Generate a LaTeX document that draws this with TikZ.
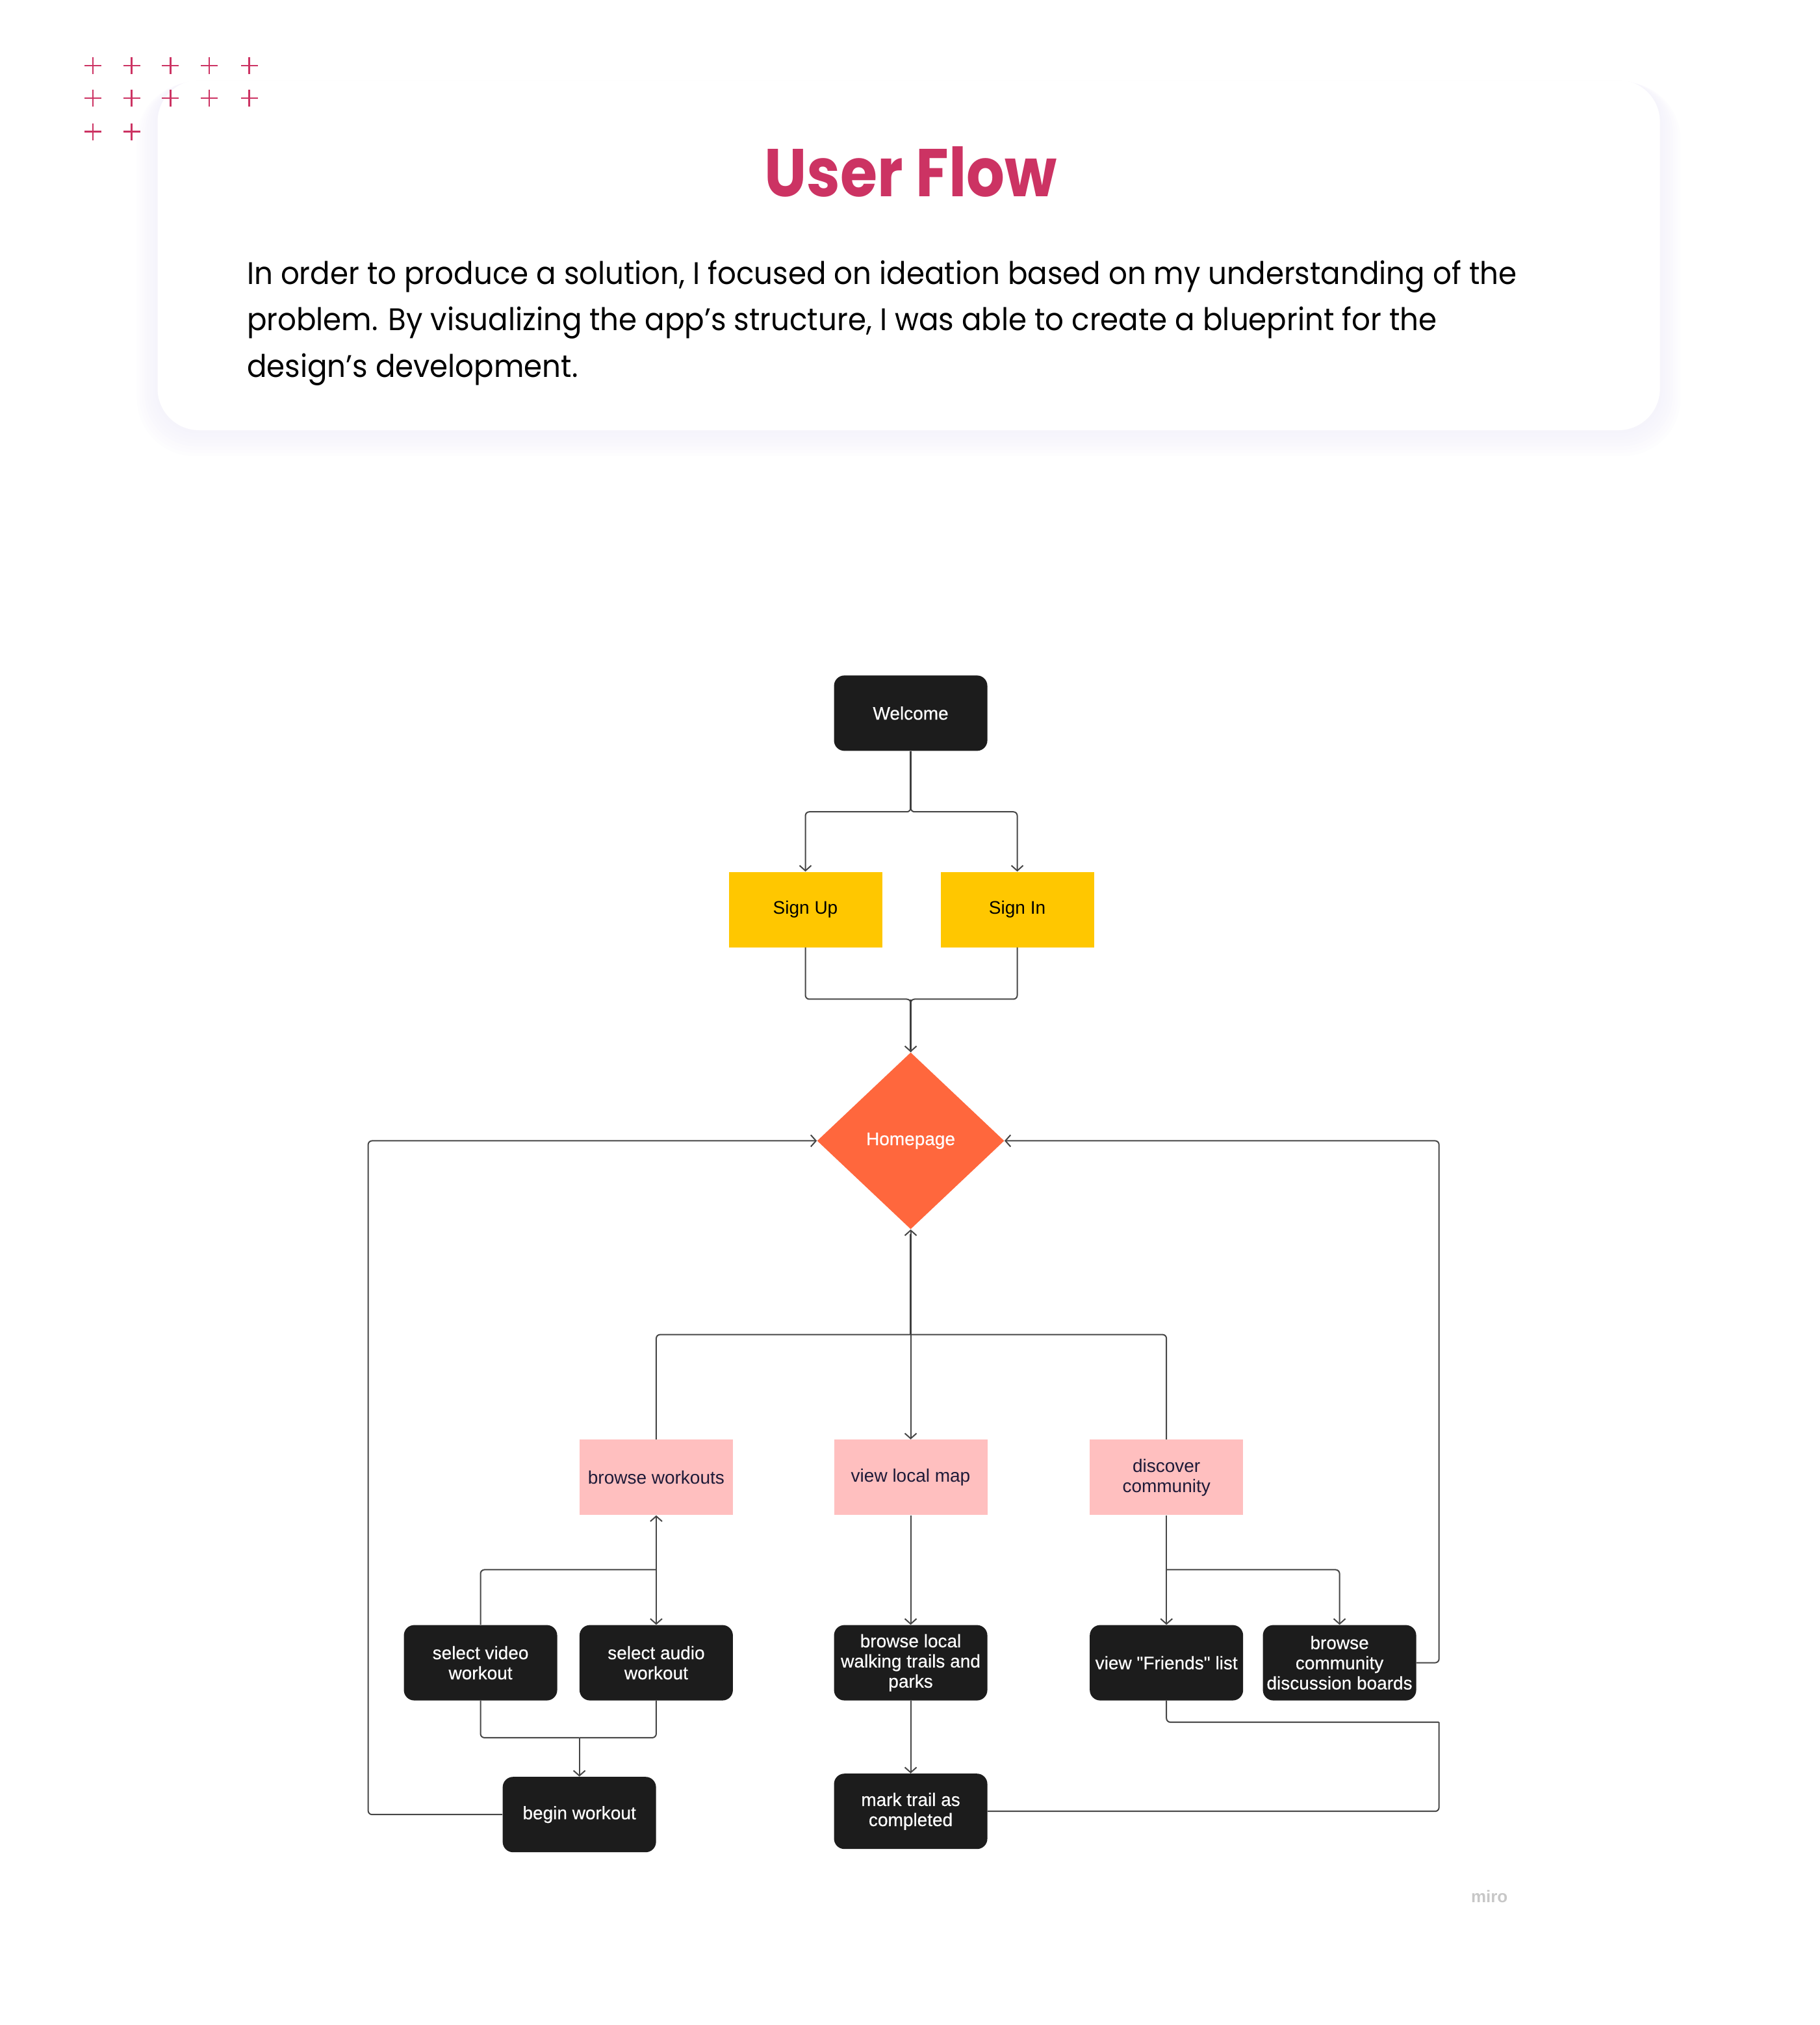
\documentclass[tikz,border=0pt]{standalone}
\usepackage{fontspec}
\setmainfont{Liberation Sans}
\newfontfamily\boxfont[FakeBold=0.4]{Liberation Sans}
\newfontfamily\headfont[FakeStretch=0.89]{Poppins}
\newfontfamily\introfont[FakeStretch=0.94]{Poppins}
\usetikzlibrary{shapes.geometric,arrows.meta}
\definecolor{accent}{HTML}{CC3363}
\definecolor{inkbox}{HTML}{1C1C1C}
\definecolor{gold}{HTML}{FFC700}
\definecolor{flame}{HTML}{FF673D}
\definecolor{blush}{HTML}{FFBFBF}
\definecolor{plum}{HTML}{1E1A38}
\definecolor{wire}{HTML}{464646}
\definecolor{haze}{HTML}{EDEAF8}
\tikzset{
  box/.style={minimum width=118pt,minimum height=58pt,inner sep=2pt,align=center,
    font=\fontsize{14}{15.5}\selectfont},
  darkbox/.style={box,fill=inkbox,text=white,rounded corners=8pt,
    font=\boxfont\fontsize{14}{15.5}\selectfont},
  goldbox/.style={box,fill=gold,text=black},
  pinkbox/.style={box,fill=blush,text=plum},
  introline/.style={anchor=base west,inner sep=0pt,font=\introfont\fontsize{24}{36}\selectfont},
  flow/.style={draw=wire,line width=1pt,rounded corners=3pt},
  trunk/.style={draw=wire!90!black,line width=1.7pt},
  tip/.style={-{Straight Barb[length=4pt,width=9pt]}}
}
\begin{document}
\begin{tikzpicture}[x=0.994pt,y=-0.994pt]
  \useasboundingbox (0,0) rectangle (1408.5,1567.4);
  % card
  \foreach \s in {1,...,8}
    \fill[haze,opacity=0.09,rounded corners=32pt+\s*1.5pt]
      (122-\s*2,62+\s*0.2) rectangle (1285+\s*2,333+\s*2.5);
  \fill[white,rounded corners=32pt] (122,62) rectangle (1285,333);
  \foreach \px/\py in {72/50.8,102/50.8,132/50.8,162/50.8,193/50.8,
                       72/76,102/76,132/76,162/76,193/76,
                       72/102,102/102}
    \draw[accent,line width=1.3pt] (\px-6.5,\py) -- (\px+6.5,\py) (\px,\py-6.5) -- (\px,\py+6.5);
  \node[anchor=base,text=accent,font=\headfont\bfseries\fontsize{52}{60}\selectfont] (title) at (705,152.3) {User Flow};
  \node[introline] (intro1) at (191,220) {In order to produce a solution, I focused on ideation based on my understanding of the};
  \node[introline] (intro2) at (191,256) {problem. By visualizing the app’s structure, I was able to create a blueprint for the};
  \node[introline] (intro3) at (191,292) {design’s development.};
  % nodes
  \node[darkbox] (welcome) at (705,552) {Welcome};
  \node[goldbox] (signup) at (623.5,704) {Sign Up};
  \node[goldbox] (signin) at (787.5,704) {Sign In};
  \node[diamond,fill=flame,text=white,minimum width=144pt,minimum height=136pt,inner sep=0pt,
    font=\boxfont\fontsize{14}{15.5}\selectfont] (home) at (705,883) {Homepage};
  \node[pinkbox] (workouts) at (508,1143.5) {browse workouts};
  \node[pinkbox] (localmap) at (705,1143.5) {view local map};
  \node[pinkbox] (community) at (903,1143.5) {discover\\community};
  \node[darkbox] (video) at (372,1287) {select video\\workout};
  \node[darkbox] (audio) at (508,1287) {select audio\\workout};
  \node[darkbox] (begin) at (448.5,1404.5) {begin workout};
  \node[darkbox] (trails) at (705,1287) {browse local\\walking trails and\\parks};
  \node[darkbox] (marked) at (705,1402) {mark trail as\\completed};
  \node[darkbox] (friends) at (903,1287) {view "Friends" list};
  \node[darkbox] (boards) at (1037,1287) {browse\\community\\discussion boards};
  \node[text=black!22,font=\bfseries\fontsize{13}{15}\selectfont] (miro) at (1153,1468) {miro};
  \coordinate (lcorner) at (285,883);
  \coordinate (rcorner) at (1114,883);
  \coordinate (rjoin) at (1114,1333);
  \coordinate (hub) at (705,1033);
  \coordinate (wjoin) at (508,1215);
  \coordinate (bjoin) at (448.5,1345);
  \coordinate (cjoin) at (903,1215);
  % connectors
  \draw[flow,tip] (welcome.south) -- ++(0,47) -| (signup.north);
  \draw[flow,tip] (welcome.south) -- ++(0,47) -| (signin.north);
  \draw[trunk] (welcome.south) -- ++(0,46);
  \draw[flow] (signup.south) -- ++(0,40) -| (home.north);
  \draw[flow,tip] (signin.south) -- ++(0,40) -| (home.north);
  \draw[trunk] (home.north) ++(0,-2) -- ++(0,-39);
  \draw[flow,tip] (begin.west) -| (lcorner) -- (home.west);
  \draw[flow,tip] (boards.east) -| (rcorner) -- (home.east);
  \draw[flow] (friends.south) |- (rjoin);
  \draw[flow] (marked.east) -| (rjoin);
  \draw[flow] (workouts.north) |- (hub);
  \draw[flow] (community.north) |- (hub);
  \draw[flow,tip] (hub) -- (home.south);
  \draw[trunk] (hub) -- ++(0,-78);
  \draw[flow,tip] (hub) -- (localmap.north);
  \draw[flow,{Straight Barb[length=4pt,width=9pt]}-{Straight Barb[length=4pt,width=9pt]}]
    (workouts.south) -- (audio.north);
  \draw[flow] (video.north) |- (wjoin);
  \draw[flow] (video.south) |- (bjoin);
  \draw[flow] (audio.south) |- (bjoin);
  \draw[flow,tip] (bjoin) -- (begin.north);
  \draw[flow,tip] (localmap.south) -- (trails.north);
  \draw[flow,tip] (trails.south) -- (marked.north);
  \draw[flow,tip] (community.south) -- (friends.north);
  \draw[flow,tip] (cjoin) -| (boards.north);
\end{tikzpicture}
\end{document}
